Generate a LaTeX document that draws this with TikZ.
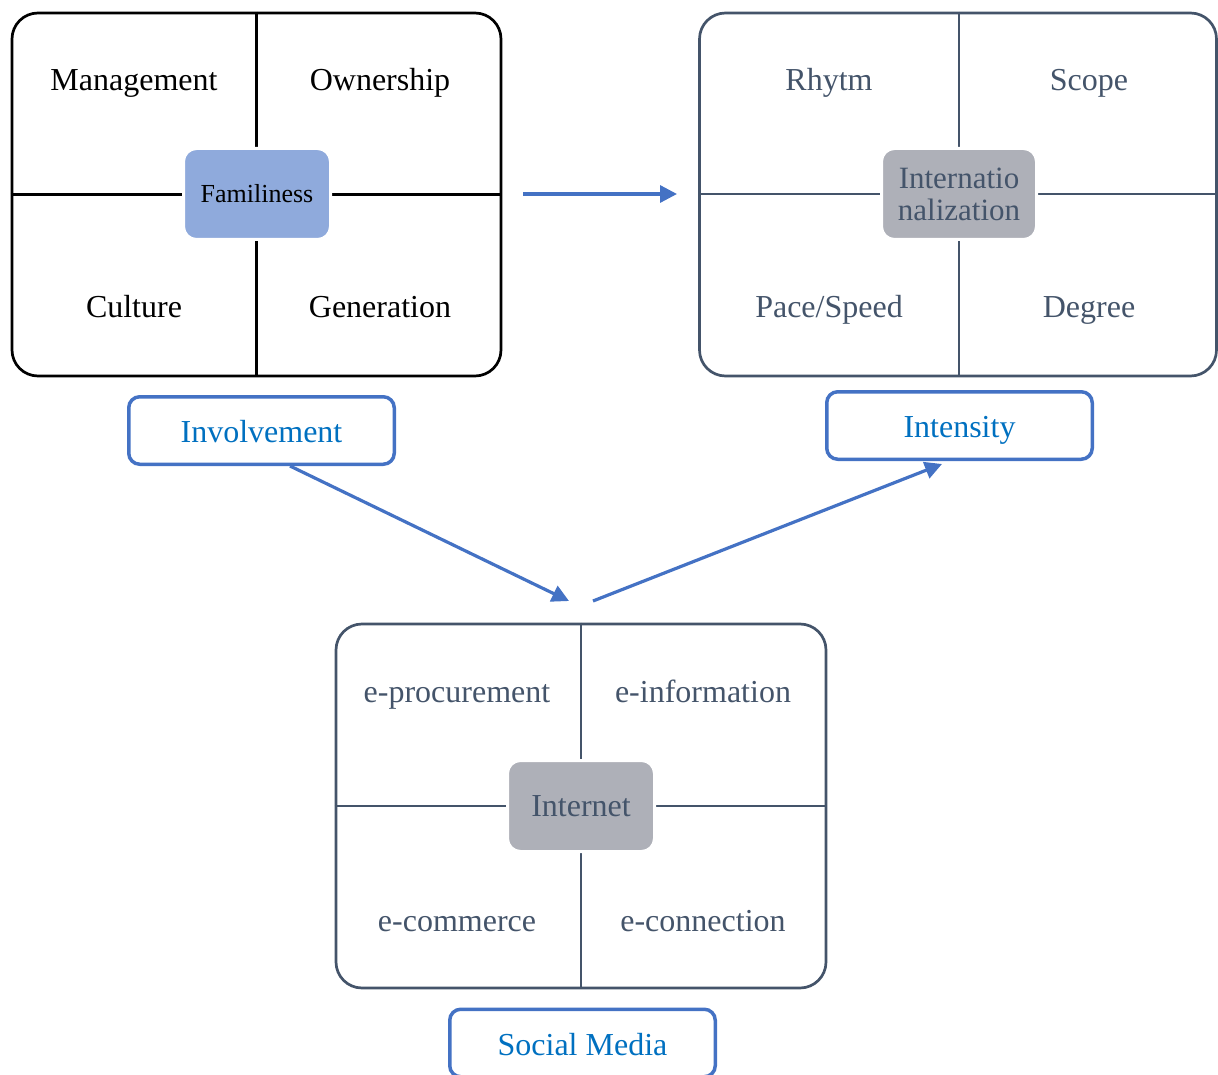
\documentclass[tikz,border=0pt]{standalone}
\usepackage{fontspec}
\setmainfont{Liberation Serif}
\usetikzlibrary{arrows.meta,calc}
\definecolor{slate}{HTML}{44546A}
\definecolor{accent}{HTML}{4472C4}
\definecolor{labeltext}{HTML}{0070C0}
\definecolor{famfill}{HTML}{8FAADC}
\definecolor{hubgray}{HTML}{AEB0B8}

\begin{document}
\begin{tikzpicture}[x=1pt,y=-1pt,
  quad/.style={draw, line width=2.7pt, rounded corners=26pt, inner sep=0pt,
    minimum width=489pt, minimum height=363pt},
  cross/.style={line width=2.7pt},
  hub/.style={draw=white, line width=3pt, rounded corners=13pt, inner sep=0pt,
    minimum width=147pt, minimum height=91pt, align=center},
  term/.style={anchor=base, font=\fontsize{32}{34}\selectfont},
  tag/.style={draw=accent, line width=3.5pt, rounded corners=11pt, inner sep=0pt,
    minimum width=265.5pt, minimum height=67.5pt, text=labeltext,
    text height=30pt, text depth=5.5pt, font=\fontsize{32}{34}\selectfont},
  flow/.style={draw=accent, line width=3.2pt, -{Triangle[length=17pt,width=17pt]}}
]
\useasboundingbox (0,0) rectangle (1218,1075);

% ---- Familiness block ----
\node[quad, draw=black] (b1) at (256.5,194.5) {};
\draw[cross, black] (b1.north) -- (b1.south);
\draw[cross, black] (b1.west) -- (b1.east);
\node[hub, fill=famfill, font=\fontsize{26}{28}\selectfont] (hub1) at (257,194) {Familiness};
\node[term] (t11) at (134,91) {Management};
\node[term] (t12) at (380,91) {Ownership};
\node[term] (t13) at (134,317) {Culture};
\node[term] (t14) at (380,317) {Generation};

% ---- Internationalization block ----
\node[quad, draw=slate, minimum width=517pt] (b2) at (958,194.5) {};
\coordinate (c2) at (959,194);
\draw[cross, slate] (b2.north -| c2) -- (b2.south -| c2);
\draw[cross, slate] (b2.west |- c2) -- (b2.east |- c2);
\node[hub, fill=hubgray, text=slate, minimum width=155pt, font=\fontsize{31}{32}\selectfont] (hub2) at (c2) {Internatio\\nalization};
\node[term, text=slate] (t21) at (829,91) {Rhytm};
\node[term, text=slate] (t22) at (1089,91) {Scope};
\node[term, text=slate] (t23) at (829,317) {Pace/Speed};
\node[term, text=slate] (t24) at (1089,317) {Degree};

% ---- Internet block ----
\node[quad, draw=slate, minimum width=490pt, minimum height=364pt] (b3) at (581,806) {};
\draw[cross, slate] (b3.north) -- (b3.south);
\draw[cross, slate] (b3.west) -- (b3.east);
\node[hub, fill=hubgray, text=slate, font=\fontsize{32}{34}\selectfont] (hub3) at (581,806) {Internet};
\node[term, text=slate] (t31) at (457,702) {e-procurement};
\node[term, text=slate] (t32) at (703,702) {e-information};
\node[term, text=slate] (t33) at (457,931) {e-commerce};
\node[term, text=slate] (t34) at (703,931) {e-connection};

% ---- labels ----
\node[tag] (inv) at (261.5,430.5) {Involvement};
\node[tag] (ints) at (959.5,425.5) {Intensity};
\node[tag] (soc) at (582.5,1043) {Social Media};

% ---- flows ----
\coordinate (h0) at (523,194);
\coordinate (h1) at (677,194);
\coordinate (m1) at (569,601);
\coordinate (m2) at (593,601);
\draw[flow] (h0) -- (h1);
\draw[flow] ($(inv.south)+(28.5,0)$) -- (m1);
\draw[flow] (m2) -- ($(ints.south)+(-17.5,3)$);
\end{tikzpicture}
\end{document}
